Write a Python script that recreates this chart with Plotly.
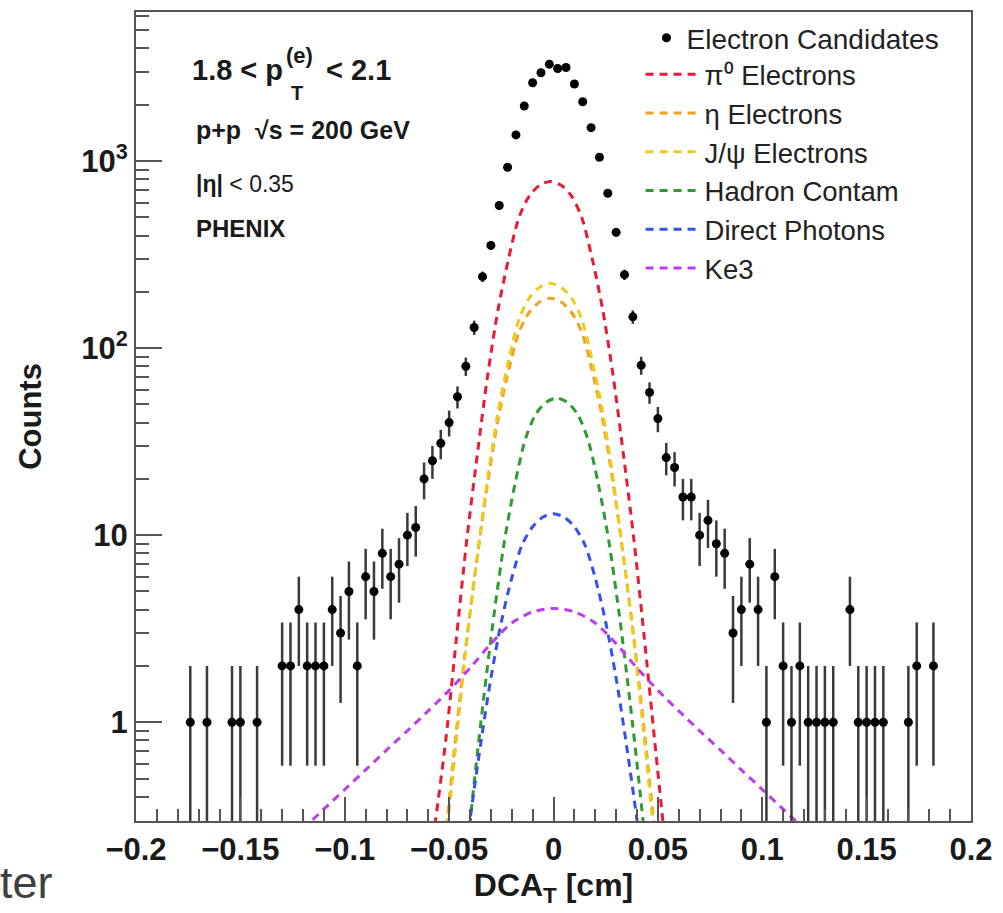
import numpy as np
import plotly.graph_objects as go

# ---------------- data ----------------
dca_bins = [-0.174, -0.166, -0.154, -0.150, -0.142, -0.130, -0.126, -0.122, -0.118, -0.114,
            -0.110, -0.106, -0.102, -0.098, -0.094, -0.090, -0.086, -0.082, -0.078, -0.074,
            -0.070, -0.066, -0.062, -0.058, -0.054, -0.050, -0.046, -0.042, -0.038, -0.034,
            -0.030, -0.026, -0.022, -0.018, -0.014, -0.010, -0.006, -0.002, 0.002, 0.006,
            0.010, 0.014, 0.018, 0.022, 0.026, 0.030, 0.034, 0.038, 0.042, 0.046,
            0.050, 0.054, 0.058, 0.062, 0.066, 0.070, 0.074, 0.078, 0.082, 0.086,
            0.090, 0.094, 0.098, 0.102, 0.106, 0.110, 0.114, 0.118, 0.122, 0.126,
            0.130, 0.134, 0.142, 0.146, 0.150, 0.154, 0.158, 0.170, 0.174, 0.182]
electron_counts = [1, 1, 1, 1, 1, 2, 2, 4, 2, 2,
                   2, 4, 3, 5, 2, 6, 5, 8, 6, 7,
                   10, 11, 20, 25, 31, 40, 55, 80, 129, 241,
                   354, 579, 927, 1380, 1970, 2624, 2966, 3298, 3126, 3164,
                   2582, 2075, 1509, 1048, 673, 416, 247, 147, 81, 58,
                   42, 26, 23, 16, 16, 10, 12, 9, 8, 3,
                   4, 7, 4, 1, 6, 2, 1, 2, 1, 1,
                   1, 1, 4, 1, 1, 1, 1, 1, 2, 2]

pi0_x = [-0.0615, -0.0565, -0.0515, -0.0465, -0.0415, -0.0365, -0.0315, -0.0265, -0.0215,
         -0.0165, -0.0115, -0.0065, -0.0015, 0.0035, 0.0085, 0.0135, 0.0185, 0.0235,
         0.0285, 0.0335, 0.0385, 0.0435, 0.0485, 0.0535, 0.0585]
pi0_y = [0.12, 0.30, 0.82, 2.82, 9.5, 27, 72, 162, 302, 501, 653, 745, 778,
         745, 653, 501, 302, 162, 72, 27, 9.5, 2.82, 0.79, 0.224, 0.063]

eta_x = pi0_x
eta_y = [0.021, 0.077, 0.26, 0.91, 2.83, 7.7, 19.1, 41.9, 76, 122, 156, 177, 185,
         177, 156, 122, 76, 41.9, 19.1, 7.7, 2.83, 0.91, 0.26, 0.077, 0.021]

jpsi_x = pi0_x
jpsi_y = [0.018, 0.065, 0.23, 0.81, 2.73, 7.7, 20.2, 46, 86, 143, 186, 212, 222,
          212, 186, 143, 86, 46, 20.2, 7.7, 2.73, 0.81, 0.23, 0.065, 0.018]

hadron_x = [-0.0485, -0.0435, -0.0385, -0.0335, -0.0285, -0.0235, -0.0185, -0.0135, -0.0085,
            -0.0035, 0.0015, 0.0065, 0.0115, 0.0165, 0.0215, 0.0265, 0.0315, 0.0365,
            0.0415, 0.0465, 0.0515]
hadron_y = [0.030, 0.115, 0.42, 1.33, 3.76, 9.3, 18.7, 32.5, 44.3, 51.4, 54,
            51.4, 44.3, 32.5, 18.7, 9.3, 3.76, 1.33, 0.42, 0.115, 0.030]

photon_x = [-0.050, -0.045, -0.040, -0.035, -0.030, -0.025, -0.020, -0.015, -0.010, -0.005, 0.0,
            0.005, 0.010, 0.015, 0.020, 0.025, 0.030, 0.035, 0.040, 0.045, 0.050]
photon_y = [0.034, 0.107, 0.30, 0.75, 1.72, 3.43, 5.9, 8.9, 11.1, 12.5, 13.0,
            12.5, 11.1, 8.9, 5.9, 3.43, 1.72, 0.75, 0.30, 0.107, 0.034]

ke3_x = [-0.13, -0.12, -0.11, -0.10, -0.09, -0.08, -0.07, -0.06, -0.05, -0.04, -0.03, -0.02, -0.01,
         0.0, 0.01, 0.02, 0.03, 0.04, 0.05, 0.06, 0.07, 0.08, 0.09, 0.10, 0.11, 0.12, 0.13]
ke3_y = [0.211, 0.269, 0.343, 0.437, 0.556, 0.71, 0.90, 1.15, 1.48, 1.95, 2.63, 3.39, 3.89,
         4.06, 3.89, 3.39, 2.63, 1.95, 1.48, 1.15, 0.90, 0.71, 0.556, 0.437, 0.343, 0.269, 0.211]

x_tick_vals = [-0.2, -0.15, -0.1, -0.05, 0, 0.05, 0.1, 0.15, 0.2]
x_tick_text = ["\u22120.2", "\u22120.15", "\u22120.1", "\u22120.05", "0", "0.05", "0.1", "0.15", "0.2"]
y_tick_vals = [1, 10, 100, 1000]
y_tick_text = ["1", "10", "10<sup>2</sup>", "10<sup>3</sup>"]
y_minor_vals = [m * d for d in [0.1, 1, 10, 100, 1000] for m in range(2, 10)]

curves = [
    ("\u03c0\u2070 Electrons", pi0_x, pi0_y, "#ea1a34"),
    ("\u03b7 Electrons", eta_x, eta_y, "#f3a022"),
    ("J/\u03c8 Electrons", jpsi_x, jpsi_y, "#eccb1c"),
    ("Hadron Contam", hadron_x, hadron_y, "#2f9a2f"),
    ("Direct Photons", photon_x, photon_y, "#3452ea"),
    ("Ke3", ke3_x, ke3_y, "#bd3cee"),
]

FONT = "Liberation Sans"
W, H = 1003, 913
L, R, T, B = 136, 23, 10, 92
PW, PH = W - L - R, H - T - B


def px(xp):
    return (xp - L) / PW


def py(yp):
    return (H - B - yp) / PH


fig = go.Figure()

for name, xs, ys, col in curves:
    fig.add_trace(go.Scatter(
        x=xs, y=ys, mode="lines", name=name, legend="legend2",
        line=dict(color=col, width=3, dash="8px,6px", shape="spline", smoothing=0.8),
        hoverinfo="skip"))

counts = np.array(electron_counts, dtype=float)
fig.add_trace(go.Scatter(
    x=dca_bins, y=electron_counts, mode="markers", name="Electron Candidates",
    legend="legend",
    marker=dict(color="black", size=9, symbol="circle"),
    error_y=dict(type="data", array=np.sqrt(counts), visible=True,
                 color="#3a3a3a", thickness=2.5, width=0)))

axis_line = "#555555"
fig.update_layout(
    width=W, height=H,
    margin=dict(l=L, r=R, t=T, b=B),
    paper_bgcolor="white", plot_bgcolor="white",
    font=dict(family=FONT, color="#1a1a1a"),
    showlegend=True,
    legend=dict(x=px(652), y=py(11), xanchor="left", yanchor="top",
                font=dict(family=FONT, size=28, color="#222222"),
                bgcolor="rgba(0,0,0,0)", borderwidth=0),
    legend2=dict(x=px(646), y=py(48), xanchor="left", yanchor="top",
                 font=dict(family=FONT, size=27.5, color="#222222"),
                 bgcolor="rgba(0,0,0,0)", borderwidth=0, itemwidth=54),
    xaxis=dict(
        range=[-0.2, 0.2], showgrid=False, zeroline=False,
        showline=True, linecolor=axis_line, linewidth=2, mirror=True,
        tickmode="array", tickvals=x_tick_vals, ticktext=x_tick_text,
        ticks="inside", ticklen=24, tickwidth=2, tickcolor=axis_line,
        tickfont=dict(family=FONT, size=31, color="#1a1a1a", weight="bold"),
        minor=dict(dtick=0.01, tick0=0, ticks="inside", ticklen=12, tickwidth=2,
                   tickcolor=axis_line, showgrid=False),
        title=dict(text="DCA<sub>T</sub> [cm]", standoff=7,
                   font=dict(family=FONT, size=32, color="#1a1a1a", weight="bold")),
    ),
    yaxis=dict(
        type="log", range=[-0.528, 3.797], showgrid=False, zeroline=False,
        showline=True, linecolor=axis_line, linewidth=2, mirror=True,
        tickmode="array", tickvals=y_tick_vals, ticktext=y_tick_text,
        ticks="inside", ticklen=26, tickwidth=2, tickcolor=axis_line,
        tickfont=dict(family=FONT, size=31, color="#1a1a1a", weight="bold"),
        minor=dict(tickmode="array", tickvals=y_minor_vals, ticks="inside", ticklen=13,
                   tickwidth=2, tickcolor=axis_line, showgrid=False),
        title=dict(text="Counts", standoff=30,
                   font=dict(family=FONT, size=31, color="#1a1a1a", weight="bold")),
    ),
)

ann = []
def add_text(text, xp, yp, size, bold=True, color="#1a1a1a", family=FONT, anchor="left"):
    ann.append(dict(text=("<b>%s</b>" % text) if bold else text, x=px(xp), y=py(yp),
                    xref="paper", yref="paper", xanchor=anchor, yanchor="middle",
                    showarrow=False, borderpad=0,
                    font=dict(family=family, size=size, color=color)))

add_text("1.8 < p", 286, 68, 29, anchor="right")
add_text("(e)", 287, 54, 22)
add_text("T", 292, 91, 20)
add_text("< 2.1", 327, 68, 29)
add_text("p+p  \u221as = 200 GeV", 196, 128, 25)
add_text("<b>|\u03b7|</b> < 0.35", 196, 182, 23, bold=False)
add_text("PHENIX", 196, 227, 24)
add_text("ter", -2, 883, 45, bold=False, color="#404040")
fig.update_layout(annotations=ann)

fig.write_html("out.html")
